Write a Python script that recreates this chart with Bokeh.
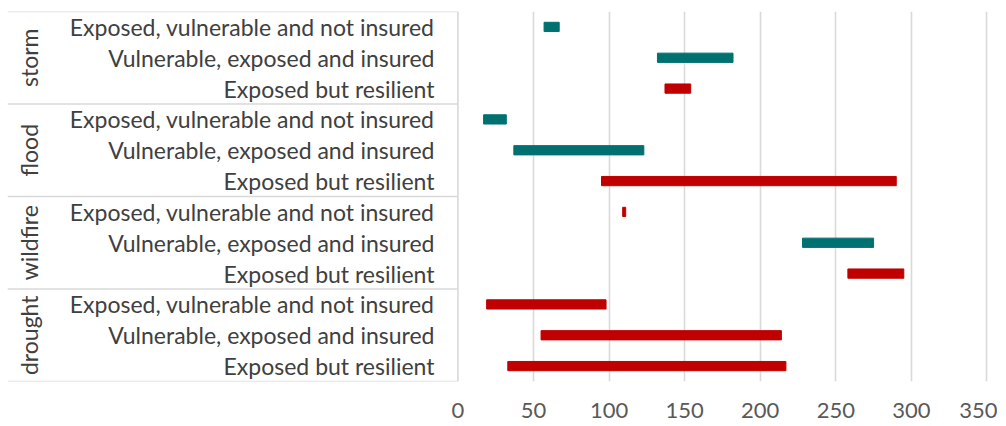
import math
from bokeh.plotting import figure
from bokeh.models import Range1d, FixedTicker, ColumnDataSource
from bokeh.core.properties import value
from bokeh.embed import file_html
from bokeh.resources import INLINE

# ---- data ----
hazards = ["storm", "flood", "wildfire", "drought"]
subcategories = [
    "Exposed, vulnerable and not insured",
    "Vulnerable, exposed and insured",
    "Exposed but resilient",
]
storm_start = [57, 132, 137]
storm_end = [67, 182, 154]
flood_start = [17, 37, 95]
flood_end = [32, 123, 290]
wildfire_start = [109, 228, 258]
wildfire_end = [111, 275, 295]
drought_start = [19, 55, 33]
drought_end = [98, 214, 217]
# 1 = highlighted (red), 0 = normal (teal)
storm_flag = [0, 0, 1]
flood_flag = [0, 0, 1]
wildfire_flag = [1, 0, 1]
drought_flag = [1, 1, 1]
x_ticks = [0, 50, 100, 150, 200, 250, 300, 350]

# ---- styling / layout ----
PALETTE = {0: "#007070", 1: "#C00000"}
FONT = "Lato"
TEXT_COLOR = "#404040"
LINE_COLOR = "#D9D9D9"
X_MIN, X_MAX = -298, 355
SUB_LABEL_X = -15.5
GROUP_LABEL_X = -284
BAR_H = 0.3

starts = [storm_start, flood_start, wildfire_start, drought_start]
ends = [storm_end, flood_end, wildfire_end, drought_end]
flags = [storm_flag, flood_flag, wildfire_flag, drought_flag]

n_rows = len(hazards) * len(subcategories)
rows = dict(y=[], left=[], right=[], color=[], label=[])
groups = dict(y=[], label=[])
for gi, h in enumerate(hazards):
    for si, s in enumerate(subcategories):
        idx = gi * len(subcategories) + si
        rows["y"].append(n_rows - idx - 0.5)
        rows["left"].append(starts[gi][si])
        rows["right"].append(ends[gi][si])
        rows["color"].append(PALETTE[flags[gi][si]])
        rows["label"].append(s)
    groups["y"].append(n_rows - gi * len(subcategories) - len(subcategories) / 2)
    groups["label"].append(h)

src = ColumnDataSource(rows)
gsrc = ColumnDataSource(groups)

p = figure(width=997, height=425,
           x_range=Range1d(X_MIN, X_MAX), y_range=Range1d(0, n_rows),
           output_backend="svg", toolbar_location=None,
           y_axis_location=None,
           min_border_left=7, min_border_right=3,
           min_border_top=11, min_border_bottom=44)
p.outline_line_color = None
p.background_fill_color = "white"
p.border_fill_color = "white"

p.ygrid.visible = False
p.xgrid.ticker = FixedTicker(ticks=x_ticks[1:])
p.xgrid.grid_line_color = LINE_COLOR
p.xgrid.grid_line_width = 1.6

p.xaxis.ticker = FixedTicker(ticks=x_ticks)
p.xaxis.axis_line_color = None
p.xaxis.major_tick_line_color = None
p.xaxis.minor_tick_line_color = None
p.xaxis.major_label_standoff = 15
p.xaxis.major_label_text_font = FONT
p.xaxis.major_label_text_font_size = "22px"
p.xaxis.major_label_text_color = "#595959"

# table lines of the category axis
bounds = [n_rows - gi * len(subcategories) for gi in range(len(hazards) + 1)]
p.segment(x0=[X_MIN] * len(bounds), x1=[0] * len(bounds), y0=bounds, y1=bounds,
          line_color=LINE_COLOR, line_width=1.6)
p.segment(x0=[0], x1=[0], y0=[0], y1=[n_rows], line_color=LINE_COLOR, line_width=1.6)

# bars
p.hbar(y="y", left="left", right="right", height=BAR_H, fill_color="color",
       line_color="color", source=src)

# labels
p.text(x=SUB_LABEL_X, y="y", text="label", source=src, text_align="right",
       text_baseline="middle", text_font=value(FONT), text_font_size="23px",
       text_color=TEXT_COLOR)
p.text(x=GROUP_LABEL_X, y="y", text="label", source=gsrc, angle=math.pi / 2,
       text_align="center", text_baseline="middle", text_font=value(FONT),
       text_font_size="23px", text_color=TEXT_COLOR)

open("out.html", "w").write(file_html(p, INLINE))
